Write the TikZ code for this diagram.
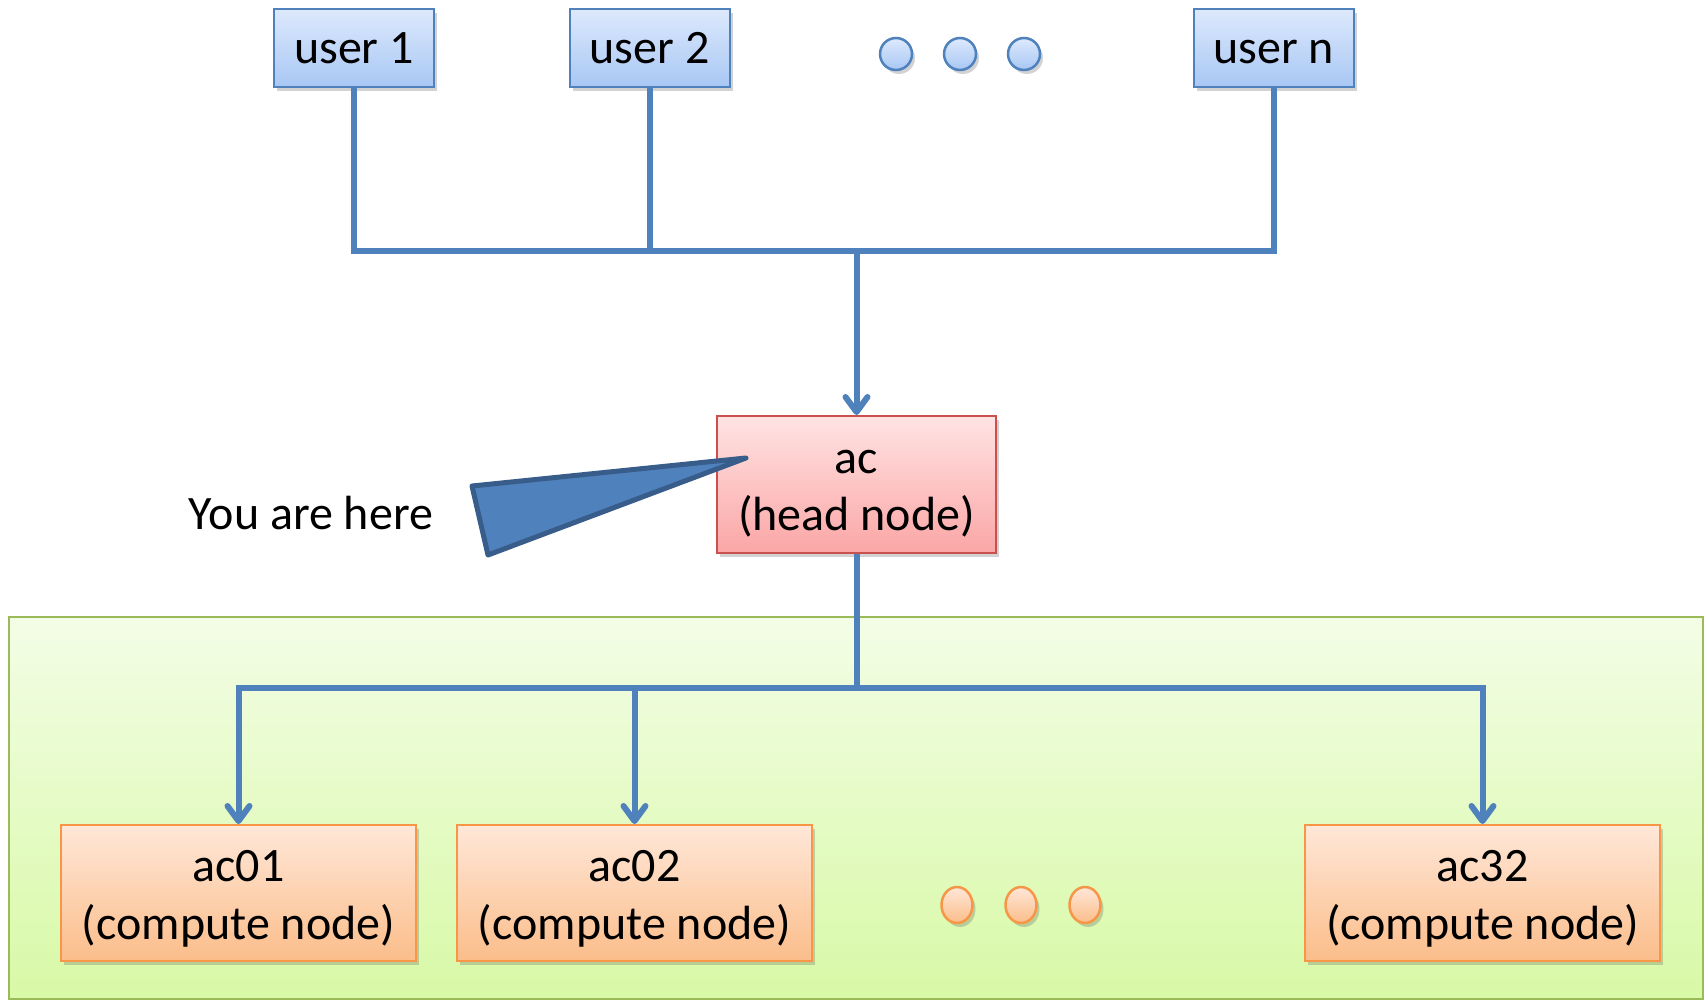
\documentclass[tikz,border=0pt]{standalone}
\usepackage{fontspec}
\setmainfont{Carlito}
\usetikzlibrary{arrows.meta,shadows,shapes.geometric}

\definecolor{wire}{HTML}{4F81BD}
\definecolor{wiredark}{HTML}{385D8A}
\definecolor{usertop}{HTML}{DDE9FC}
\definecolor{userbot}{HTML}{A8C7F4}
\definecolor{headtop}{HTML}{FFE3E3}
\definecolor{headbot}{HTML}{FBA6A6}
\definecolor{headline}{HTML}{C9504D}
\definecolor{comptop}{HTML}{FFE7D8}
\definecolor{compbot}{HTML}{FBBD8A}
\definecolor{compline}{HTML}{F79646}
\definecolor{paneltop}{HTML}{F3FDE6}
\definecolor{panelbot}{HTML}{D8F9A6}
\definecolor{panelline}{HTML}{9BBB59}

% two centred lines with strut-based spacing, drawn slightly low in the box
\newcommand{\twolines}[2]{\raisebox{-6pt}[\height][\depth]{\begin{tabular}{@{}c@{}}#1\\#2\end{tabular}}}

\tikzset{
  softshadow/.style={drop shadow={shadow xshift=3pt,shadow yshift=-4pt,opacity=0.25,fill=black!70}},
  bigtext/.style={font=\fontsize{48}{57}\selectfont},
  userbox/.style={rectangle,draw=wire,line width=2pt,top color=usertop,bottom color=userbot,
    minimum width=160pt,minimum height=78pt,inner sep=0pt,softshadow,bigtext,
    text height=36pt,text depth=6pt},
  headbox/.style={rectangle,draw=headline,line width=2pt,top color=headtop,bottom color=headbot,
    minimum width=279pt,minimum height=137pt,inner sep=0pt,softshadow,bigtext},
  compbox/.style={rectangle,draw=compline,line width=2pt,top color=comptop,bottom color=compbot,
    minimum width=355pt,minimum height=136pt,inner sep=0pt,softshadow,
    font=\fontsize{48}{58}\selectfont},
  userdot/.style={circle,draw=wire,line width=2.5pt,top color=usertop,bottom color=userbot,
    minimum size=32pt,inner sep=0pt,softshadow},
  compdot/.style={ellipse,draw=compline,line width=2.5pt,top color=comptop,bottom color=compbot,
    minimum width=31pt,minimum height=36pt,inner sep=0pt,softshadow},
  wireline/.style={draw=wire,line width=6pt},
  wirearrow/.style={wireline,-{Straight Barb[length=15pt,width=22pt,line width=6pt,round]}},
}

\begin{document}
\begin{tikzpicture}[x=1pt,y=-1pt]
\useasboundingbox (0,0) rectangle (1705,1001);

% compute cluster panel
\path[draw=panelline,line width=2pt,top color=paneltop,bottom color=panelbot]
  (9,617) rectangle (1703,999);

% users
\node[userbox] (u1) at (354,48) {user 1};
\node[userbox] (u2) at (649.5,48) {user 2};
\node[userbox] (un) at (1273.5,48) {user n};
\node[userdot] (d1) at (896,54) {};
\node[userdot] (d2) at (960,54) {};
\node[userdot] (d3) at (1024,54) {};

% head node
\node[headbox] (head) at (856.5,484.5) {\twolines{ac}{(head node)}};

% compute nodes
\node[compbox] (c1) at (238.5,893) {\twolines{ac01}{(compute node)}};
\node[compbox] (c2) at (634.5,893) {\twolines{ac02}{(compute node)}};
\node[compbox] (c32) at (1482.5,893) {\twolines{ac32}{(compute node)}};
\node[compdot] (e1) at (957,905) {};
\node[compdot] (e2) at (1021,905) {};
\node[compdot] (e3) at (1085,905) {};

% user bus into the head node
\coordinate (ubus) at (head.north |- 0,251);
\draw[wireline,line join=miter] (u1.south) |- (ubus) -| (un.south);
\draw[wireline] (u2.south) -- (u2.south |- ubus);
\draw[wirearrow] (ubus) -- (head.north);

% head node out to the compute nodes
\coordinate (cbus) at (head.south |- 0,688);
\draw[wireline] (head.south) -- (cbus);
\draw[wirearrow,line join=miter] (cbus) -| (c1.north);
\draw[wirearrow] (cbus) -| (c2.north);
\draw[wirearrow] (cbus) -| (c32.north);

% pointer label
\node[bigtext] (here) at (311,513) {You are here};
\coordinate (tip) at (746,458);
\coordinate (cA) at (472,486);
\coordinate (cB) at (488,555);
\draw[fill=wire,draw=wiredark,line width=5pt,line join=round] (tip) -- (cA) -- (cB) -- cycle;
\end{tikzpicture}
\end{document}
